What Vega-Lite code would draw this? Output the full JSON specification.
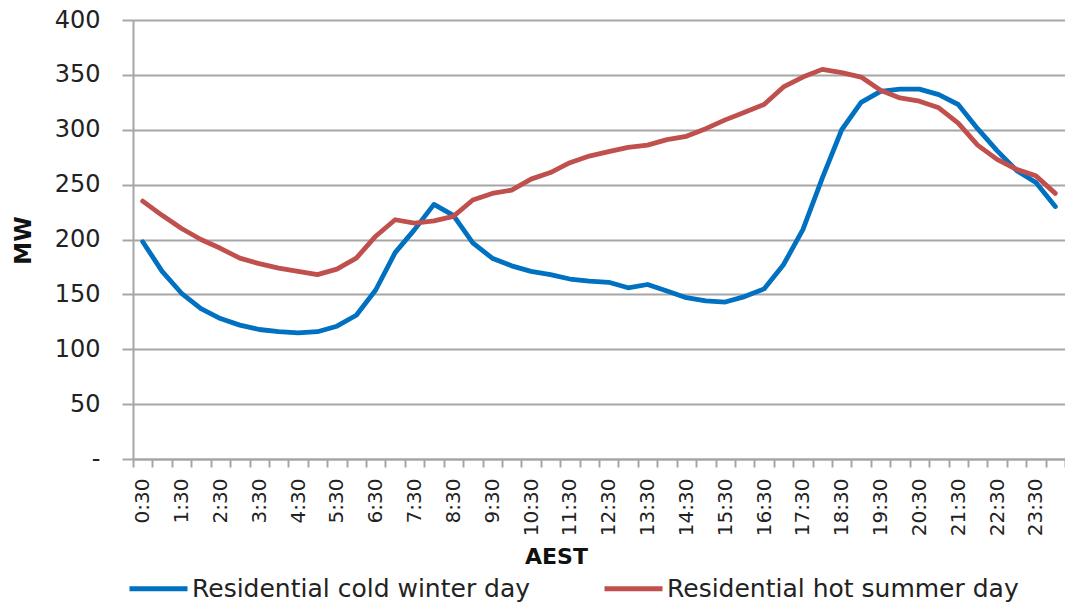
{
  "$schema": "https://vega.github.io/schema/vega-lite/v6.json",
  "width": 932,
  "height": 439,
  "autosize": {"type": "none"},
  "padding": {"left": 133, "top": 20, "right": 0, "bottom": 143},
  "background": "white",
  "config": {"view": {"stroke": null}, "font": "DejaVu Sans"},
  "data": {
    "values": [
      {"time": "0:30", "series": "Residential cold winter day", "mw": 198},
      {"time": "1:00", "series": "Residential cold winter day", "mw": 171},
      {"time": "1:30", "series": "Residential cold winter day", "mw": 151},
      {"time": "2:00", "series": "Residential cold winter day", "mw": 137},
      {"time": "2:30", "series": "Residential cold winter day", "mw": 128},
      {"time": "3:00", "series": "Residential cold winter day", "mw": 122},
      {"time": "3:30", "series": "Residential cold winter day", "mw": 118},
      {"time": "4:00", "series": "Residential cold winter day", "mw": 116},
      {"time": "4:30", "series": "Residential cold winter day", "mw": 115},
      {"time": "5:00", "series": "Residential cold winter day", "mw": 116},
      {"time": "5:30", "series": "Residential cold winter day", "mw": 121},
      {"time": "6:00", "series": "Residential cold winter day", "mw": 131},
      {"time": "6:30", "series": "Residential cold winter day", "mw": 154},
      {"time": "7:00", "series": "Residential cold winter day", "mw": 188},
      {"time": "7:30", "series": "Residential cold winter day", "mw": 209},
      {"time": "8:00", "series": "Residential cold winter day", "mw": 232},
      {"time": "8:30", "series": "Residential cold winter day", "mw": 222},
      {"time": "9:00", "series": "Residential cold winter day", "mw": 197},
      {"time": "9:30", "series": "Residential cold winter day", "mw": 183},
      {"time": "10:00", "series": "Residential cold winter day", "mw": 176},
      {"time": "10:30", "series": "Residential cold winter day", "mw": 171},
      {"time": "11:00", "series": "Residential cold winter day", "mw": 168},
      {"time": "11:30", "series": "Residential cold winter day", "mw": 164},
      {"time": "12:00", "series": "Residential cold winter day", "mw": 162},
      {"time": "12:30", "series": "Residential cold winter day", "mw": 161},
      {"time": "13:00", "series": "Residential cold winter day", "mw": 156},
      {"time": "13:30", "series": "Residential cold winter day", "mw": 159},
      {"time": "14:00", "series": "Residential cold winter day", "mw": 153},
      {"time": "14:30", "series": "Residential cold winter day", "mw": 147},
      {"time": "15:00", "series": "Residential cold winter day", "mw": 144},
      {"time": "15:30", "series": "Residential cold winter day", "mw": 143},
      {"time": "16:00", "series": "Residential cold winter day", "mw": 148},
      {"time": "16:30", "series": "Residential cold winter day", "mw": 155},
      {"time": "17:00", "series": "Residential cold winter day", "mw": 177},
      {"time": "17:30", "series": "Residential cold winter day", "mw": 209},
      {"time": "18:00", "series": "Residential cold winter day", "mw": 256},
      {"time": "18:30", "series": "Residential cold winter day", "mw": 300},
      {"time": "19:00", "series": "Residential cold winter day", "mw": 325},
      {"time": "19:30", "series": "Residential cold winter day", "mw": 335},
      {"time": "20:00", "series": "Residential cold winter day", "mw": 337},
      {"time": "20:30", "series": "Residential cold winter day", "mw": 337},
      {"time": "21:00", "series": "Residential cold winter day", "mw": 332},
      {"time": "21:30", "series": "Residential cold winter day", "mw": 323},
      {"time": "22:00", "series": "Residential cold winter day", "mw": 301},
      {"time": "22:30", "series": "Residential cold winter day", "mw": 281},
      {"time": "23:00", "series": "Residential cold winter day", "mw": 263},
      {"time": "23:30", "series": "Residential cold winter day", "mw": 252},
      {"time": "24:00", "series": "Residential cold winter day", "mw": 230},
      {"time": "0:30", "series": "Residential hot summer day", "mw": 235},
      {"time": "1:00", "series": "Residential hot summer day", "mw": 222},
      {"time": "1:30", "series": "Residential hot summer day", "mw": 210},
      {"time": "2:00", "series": "Residential hot summer day", "mw": 200},
      {"time": "2:30", "series": "Residential hot summer day", "mw": 192},
      {"time": "3:00", "series": "Residential hot summer day", "mw": 183},
      {"time": "3:30", "series": "Residential hot summer day", "mw": 178},
      {"time": "4:00", "series": "Residential hot summer day", "mw": 174},
      {"time": "4:30", "series": "Residential hot summer day", "mw": 171},
      {"time": "5:00", "series": "Residential hot summer day", "mw": 168},
      {"time": "5:30", "series": "Residential hot summer day", "mw": 173},
      {"time": "6:00", "series": "Residential hot summer day", "mw": 183},
      {"time": "6:30", "series": "Residential hot summer day", "mw": 203},
      {"time": "7:00", "series": "Residential hot summer day", "mw": 218},
      {"time": "7:30", "series": "Residential hot summer day", "mw": 215},
      {"time": "8:00", "series": "Residential hot summer day", "mw": 217},
      {"time": "8:30", "series": "Residential hot summer day", "mw": 221},
      {"time": "9:00", "series": "Residential hot summer day", "mw": 236},
      {"time": "9:30", "series": "Residential hot summer day", "mw": 242},
      {"time": "10:00", "series": "Residential hot summer day", "mw": 245},
      {"time": "10:30", "series": "Residential hot summer day", "mw": 255},
      {"time": "11:00", "series": "Residential hot summer day", "mw": 261},
      {"time": "11:30", "series": "Residential hot summer day", "mw": 270},
      {"time": "12:00", "series": "Residential hot summer day", "mw": 276},
      {"time": "12:30", "series": "Residential hot summer day", "mw": 280},
      {"time": "13:00", "series": "Residential hot summer day", "mw": 284},
      {"time": "13:30", "series": "Residential hot summer day", "mw": 286},
      {"time": "14:00", "series": "Residential hot summer day", "mw": 291},
      {"time": "14:30", "series": "Residential hot summer day", "mw": 294},
      {"time": "15:00", "series": "Residential hot summer day", "mw": 301},
      {"time": "15:30", "series": "Residential hot summer day", "mw": 309},
      {"time": "16:00", "series": "Residential hot summer day", "mw": 316},
      {"time": "16:30", "series": "Residential hot summer day", "mw": 323},
      {"time": "17:00", "series": "Residential hot summer day", "mw": 339},
      {"time": "17:30", "series": "Residential hot summer day", "mw": 348},
      {"time": "18:00", "series": "Residential hot summer day", "mw": 355},
      {"time": "18:30", "series": "Residential hot summer day", "mw": 352},
      {"time": "19:00", "series": "Residential hot summer day", "mw": 348},
      {"time": "19:30", "series": "Residential hot summer day", "mw": 336},
      {"time": "20:00", "series": "Residential hot summer day", "mw": 329},
      {"time": "20:30", "series": "Residential hot summer day", "mw": 326},
      {"time": "21:00", "series": "Residential hot summer day", "mw": 320},
      {"time": "21:30", "series": "Residential hot summer day", "mw": 306},
      {"time": "22:00", "series": "Residential hot summer day", "mw": 286},
      {"time": "22:30", "series": "Residential hot summer day", "mw": 273},
      {"time": "23:00", "series": "Residential hot summer day", "mw": 264},
      {"time": "23:30", "series": "Residential hot summer day", "mw": 258},
      {"time": "24:00", "series": "Residential hot summer day", "mw": 242}
    ]
  },
  "mark": {"type": "line", "strokeWidth": 4.8, "strokeJoin": "round", "strokeCap": "round"},
  "encoding": {
    "x": {
      "field": "time",
      "type": "ordinal",
      "sort": null,
      "bandPosition": 0.5,
      "scale": {"type": "band", "paddingInner": 0, "paddingOuter": 0},
      "axis": {
        "title": "AEST",
        "titleFont": "DejaVu Sans",
        "titleFontSize": 22,
        "titleFontWeight": "bold",
        "titleColor": "#111111",
        "titleX": 423,
        "titleY": 104,
        "titleAlign": "center",
        "titleBaseline": "alphabetic",
        "domain": true,
        "domainColor": "#A6A6A6",
        "domainWidth": 2,
        "ticks": true,
        "tickBand": "extent",
        "tickSize": 8,
        "tickColor": "#A6A6A6",
        "tickWidth": 2,
        "grid": false,
        "labelExpr": "slice(datum.label, -2) == '30' ? datum.label : ''",
        "labelAngle": 270,
        "labelAlign": "right",
        "labelBaseline": "middle",
        "labelFont": "DejaVu Sans",
        "labelFontSize": 20,
        "labelColor": "#222222",
        "labelPadding": 11,
        "labelOverlap": false
      }
    },
    "y": {
      "field": "mw",
      "type": "quantitative",
      "scale": {"domain": [0, 400], "nice": false},
      "axis": {
        "title": "MW",
        "titleFont": "DejaVu Sans",
        "titleFontSize": 23,
        "titleFontWeight": "bold",
        "titleColor": "#111111",
        "titleAngle": 270,
        "titleX": -110,
        "titleY": 220,
        "titleAlign": "center",
        "titleBaseline": "middle",
        "values": [0, 50, 100, 150, 200, 250, 300, 350, 400],
        "domain": true,
        "domainColor": "#A6A6A6",
        "domainWidth": 2,
        "ticks": true,
        "tickSize": 11,
        "tickColor": "#A6A6A6",
        "tickWidth": 2,
        "grid": true,
        "gridColor": "#A6A6A6",
        "gridWidth": 2,
        "labelExpr": "datum.value == 0 ? '-\u00a0\u00a0' : datum.label",
        "labelFont": "DejaVu Sans",
        "labelFontSize": 24,
        "labelColor": "#222222",
        "labelPadding": 22
      }
    },
    "color": {
      "field": "series",
      "type": "nominal",
      "scale": {
        "domain": ["Residential cold winter day", "Residential hot summer day"],
        "range": ["#0070C0", "#C0504D"]
      },
      "legend": {
        "orient": "none",
        "legendX": -6,
        "legendY": 537,
        "direction": "horizontal",
        "title": null,
        "padding": 0,
        "symbolType": "stroke",
        "symbolSize": 3364,
        "symbolStrokeWidth": 5,
        "labelFont": "DejaVu Sans",
        "labelFontSize": 25,
        "labelColor": "#222222",
        "labelOffset": 2,
        "labelLimit": 0,
        "columnPadding": 63
      }
    }
  }
}
